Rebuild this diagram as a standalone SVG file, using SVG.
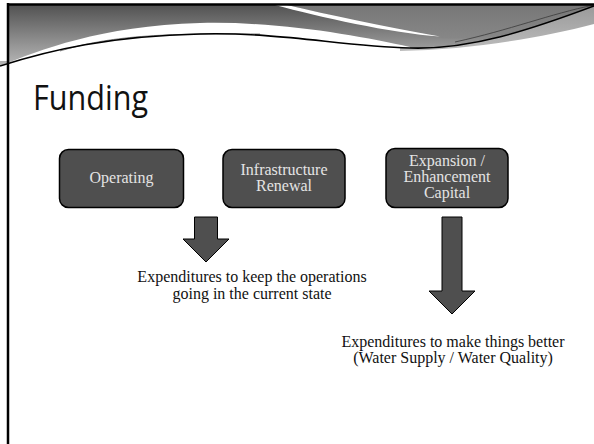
<svg xmlns="http://www.w3.org/2000/svg" width="594" height="444" viewBox="0 0 594 444">
  <defs>
    <linearGradient id="bandMain" gradientUnits="userSpaceOnUse" x1="0" y1="5" x2="0" y2="66">
      <stop offset="0" stop-color="#525252"/>
      <stop offset="1" stop-color="#b8b8b8"/>
    </linearGradient>
    <linearGradient id="bandRight" gradientUnits="userSpaceOnUse" x1="0" y1="5" x2="0" y2="45">
      <stop offset="0" stop-color="#777777"/>
      <stop offset="1" stop-color="#8a8a8a"/>
    </linearGradient>
    <linearGradient id="bandLow" gradientUnits="userSpaceOnUse" x1="0" y1="6" x2="0" y2="52">
      <stop offset="0" stop-color="#9a9a9a"/>
      <stop offset="1" stop-color="#bdbdbd"/>
    </linearGradient>
    <style>
      .box { fill: #4f4f4f; stroke: #000; stroke-width: 1.5; }
      .boxtext { font-family: "Liberation Serif", "Times New Roman", serif; font-size: 16px; fill: #e4e4e4; text-anchor: middle; }
      .note { font-family: "Liberation Serif", "Times New Roman", serif; font-size: 16px; fill: #111; text-anchor: middle; }
      .arrow { fill: #4f4f4f; stroke: #000; stroke-width: 1; stroke-linejoin: miter; }
      .title { font-family: "Open Sans", "Liberation Sans", sans-serif; font-size: 34px; fill: #111; }
    </style>
  </defs>

  <rect width="594" height="444" fill="#ffffff"/>

  <!-- header swoosh -->
  <g id="header">
    <path d="M8,5 H594 V6 C530,30 470,50 410,48 L410,47 C360,36 280,21 200,23 C100,26 40,50 0,66 L0,5 Z" fill="url(#bandMain)"/>
    <path d="M287,5 H594 V6 C540,26 490,42 440,38 C400,33 340,17 287,5 Z" fill="url(#bandRight)"/>
    <path d="M275,5 L287,5 C330,15 380,26 440,36.5 C390,33 320,17 275,5 Z" fill="#ffffff"/>
    <path d="M400,48 C470,50 530,30 594,6 V24 C540,38 470,50 400,51 Z" fill="url(#bandLow)"/>
    <rect x="0" y="0" width="7" height="61" fill="#ffffff"/>
    <path d="M60,51 C110,36 160,33 260,34" fill="none" stroke="#8a8a8a" stroke-width="1"/>
    <path d="M455,42 C510,30 550,14 594,5" fill="none" stroke="#3a3a3a" stroke-width="0.8"/>
    <path d="M0,66 C50,50 110,36 200,34 C280,32 340,46 410,48 C470,50 530,30 594,6" fill="none" stroke="#000" stroke-width="1.6"/>
    <line x1="7" y1="4.5" x2="594" y2="4.5" stroke="#000" stroke-width="2.5"/>
    <line x1="8" y1="3" x2="8" y2="444" stroke="#000" stroke-width="2.5"/>
  </g>

  <text id="title" class="title" x="33" y="110" textLength="115" lengthAdjust="spacingAndGlyphs">Funding</text>

  <g id="operating">
    <rect class="box" x="59.5" y="149.5" width="124" height="58" rx="9"/>
    <text class="boxtext" x="121.5" y="183">Operating</text>
  </g>

  <g id="infrastructure-renewal">
    <rect class="box" x="223" y="149.5" width="122" height="58" rx="9"/>
    <text class="boxtext" x="284" y="175">Infrastructure</text>
    <text class="boxtext" x="284" y="191">Renewal</text>
  </g>

  <g id="expansion-enhancement-capital">
    <rect class="box" x="386" y="148.5" width="122" height="59" rx="9"/>
    <text class="boxtext" x="447" y="166">Expansion /</text>
    <text class="boxtext" x="447" y="182">Enhancement</text>
    <text class="boxtext" x="447" y="198">Capital</text>
  </g>

  <g id="connectors">
    <polygon class="arrow" points="194.5,217 217.5,217 217.5,239 229,239 206,262 183,239 194.5,239"/>
    <polygon class="arrow" points="442,217 462,217 462,291 475,291 452,314 429,291 442,291"/>
  </g>

  <g id="note-maintain">
    <text class="note" x="252" y="282">Expenditures to keep the operations</text>
    <text class="note" x="252" y="299">going in the current state</text>
  </g>

  <g id="note-improve">
    <text class="note" x="453" y="347">Expenditures to make things better</text>
    <text class="note" x="453" y="363">(Water Supply / Water Quality)</text>
  </g>
</svg>
